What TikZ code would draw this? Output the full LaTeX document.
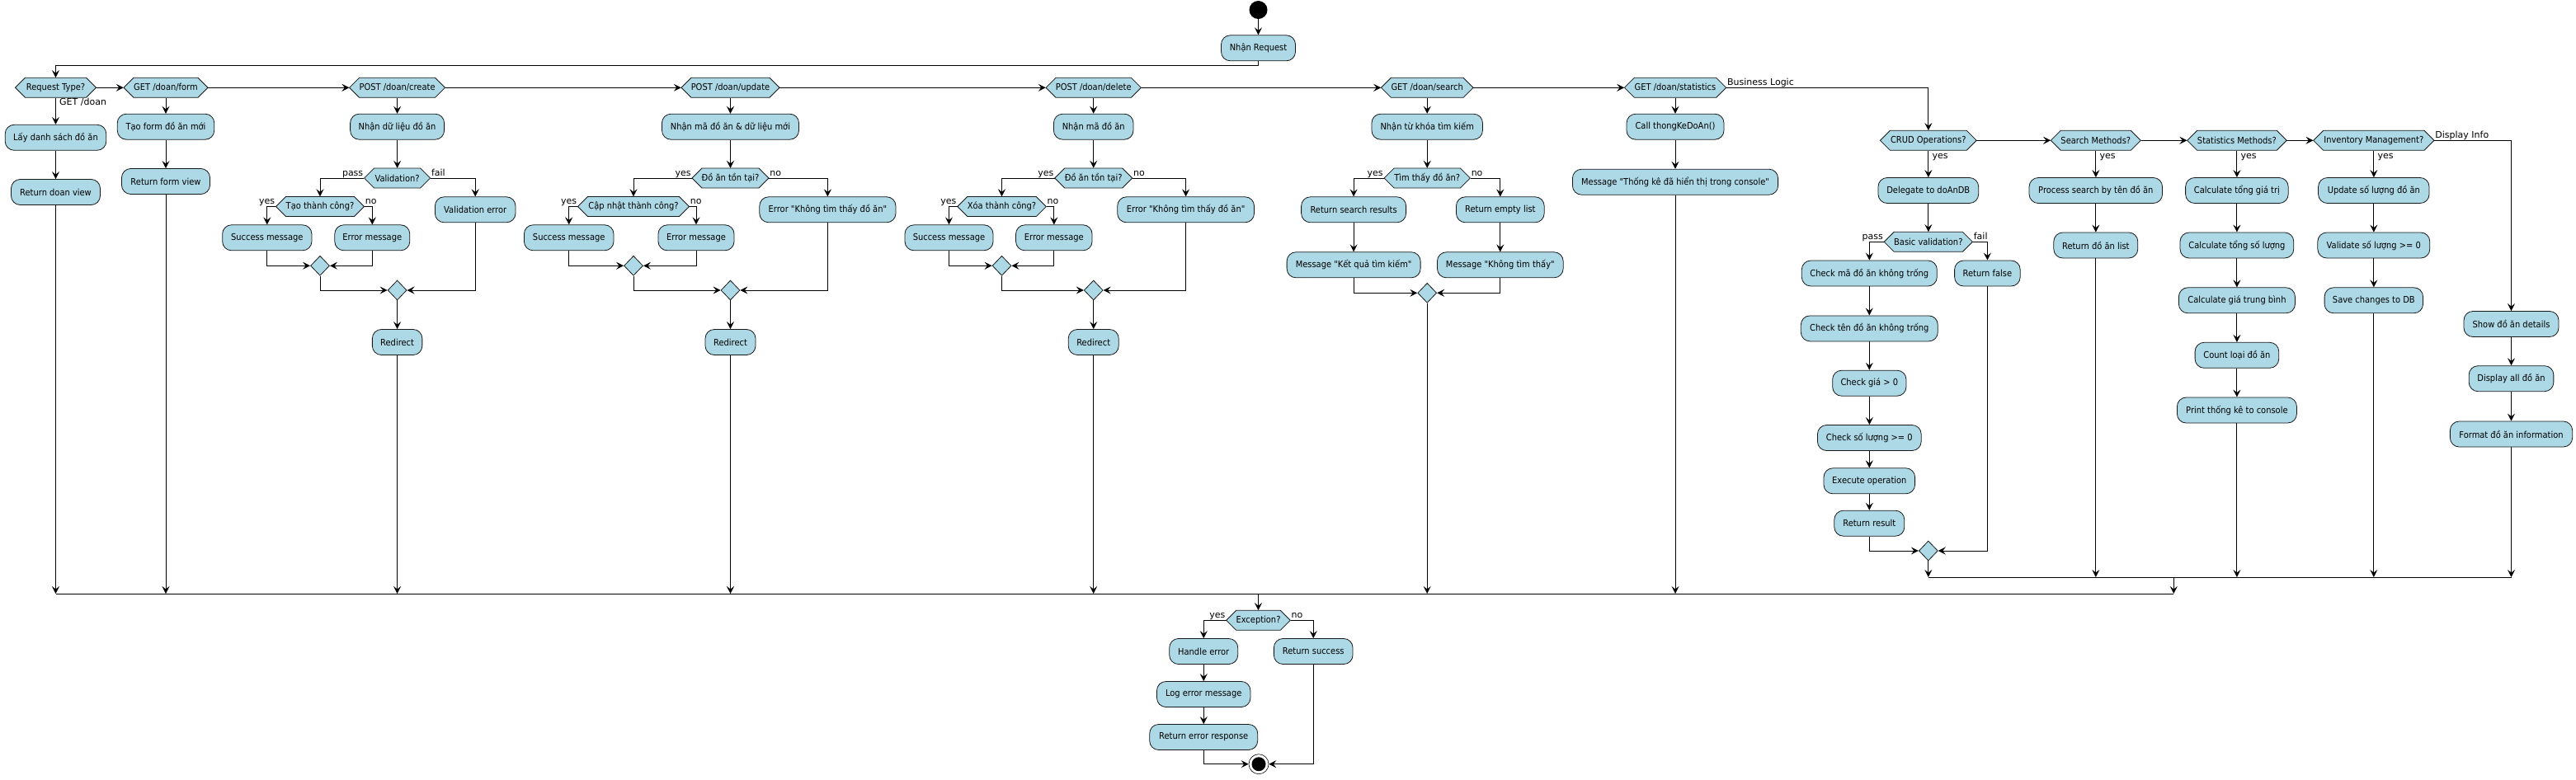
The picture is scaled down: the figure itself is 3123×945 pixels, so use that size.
\documentclass[tikz,border=0pt]{standalone}
\usepackage{fontspec}
\setmainfont{DejaVu Sans}
\newfontfamily\boxfont{DejaVu Sans}[FakeStretch=0.9]
\usetikzlibrary{arrows.meta,shapes.geometric}
\definecolor{lb}{RGB}{173,216,230}
\definecolor{bd}{RGB}{24,24,24}
\tikzset{
  actbox/.style={rectangle, rounded corners=11pt, draw=bd, fill=lb, line width=0.8pt,
    minimum height=31pt, inner sep=0pt, font={\boxfont\fontsize{11}{13}\selectfont}},
  hexlbl/.style={rectangle, inner sep=0pt, minimum height=24pt, font={\boxfont\fontsize{11}{13}\selectfont}},
  hexshape/.style={draw=bd, fill=lb, line width=0.8pt},
  merge/.style={diamond, draw=bd, fill=lb, line width=0.8pt, minimum width=23pt, minimum height=24pt, inner sep=0pt},
  arr/.style={-{Stealth[length=9pt,width=9pt,inset=3.5pt]}, line width=0.9pt},
  ln/.style={line width=0.9pt},
  lbl/.style={font={\fontsize{11}{13}\selectfont}, inner sep=0pt},
  startc/.style={circle, fill=black, minimum size=22pt, inner sep=0pt},
  endc/.style={circle, draw=black, fill=white, line width=0.6pt, minimum size=24pt, inner sep=0pt}
}
\newcommand\mkact[5]{\node[actbox, minimum width=#4pt] (#1) at (#2,#3) {#5};}
\newcommand\mkhex[5]{\path[hexshape] ({#2-#4/2},#3) -- ({#2-#4/2+12},{#3-12}) -- ({#2+#4/2-12},{#3-12}) -- ({#2+#4/2},#3) -- ({#2+#4/2-12},{#3+12}) -- ({#2-#4/2+12},{#3+12}) -- cycle; \node[hexlbl, minimum width=#4pt] (#1) at (#2,#3) {#5};}
\begin{document}
\begin{tikzpicture}[x=1pt,y=-1pt]
\useasboundingbox (0,0) rectangle (3123,945);

% start
\node[startc] (start) at (1525.5,12) {};
\mkact{A}{1525.5}{58.3}{90}{Nhận Request}

% request type row
\mkhex{RT}{67.5}{106.3}{98}{Request Type?}
\mkact{L1}{67.5}{166.8}{122.6}{Lấy danh sách đồ ăn}
\mkact{L2}{67.5}{233}{108}{Return doan view}

\mkhex{GF}{201}{106.3}{102}{GET /doan/form}
\mkact{F1}{201}{153.7}{117.5}{Tạo form đồ ăn mới}
\mkact{F2}{201}{220}{107}{Return form view}

\mkhex{PC}{481.6}{106.3}{116}{POST /doan/create}
\mkact{C1}{481.6}{153.7}{114}{Nhận dữ liệu đồ ăn}
\mkhex{CV}{481.6}{216}{80}{Validation?}
\mkhex{CT}{388}{250.5}{107}{Tạo thành công?}
\mkact{CS}{323.8}{288.3}{108.3}{Success message}
\mkact{CE}{451.3}{288.3}{91}{Error message}
\node[merge] (CM1) at (388,322.3) {};
\mkact{CVE}{576.2}{254.3}{97.6}{Validation error}
\node[merge] (CM2) at (481.6,352) {};
\mkact{CR}{481.6}{415}{60.5}{Redirect}

\mkhex{PU}{885.5}{106.3}{119}{POST /doan/update}
\mkact{U1}{885.5}{153.7}{166}{Nhận mã đồ ăn \& dữ liệu mới}
\mkhex{UV}{885.5}{216}{93}{Đồ ăn tồn tại?}
\mkhex{UT}{768}{250.5}{135}{Cập nhật thành công?}
\mkact{US}{689.7}{288.3}{108.6}{Success message}
\mkact{UE}{844}{288.3}{92}{Error message}
\node[merge] (UM1) at (768,322.3) {};
\mkact{UN}{1003.4}{254.3}{165.2}{Error "Không tìm thấy đồ ăn"}
\node[merge] (UM2) at (885.5,352) {};
\mkact{UR}{885.5}{415}{61}{Redirect}

\mkhex{PD}{1325.7}{106.3}{115.4}{POST /doan/delete}
\mkact{D1}{1325.7}{153.7}{96.6}{Nhận mã đồ ăn}
\mkhex{DV}{1325.7}{216}{94}{Đồ ăn tồn tại?}
\mkhex{DT}{1214.5}{250.5}{107.6}{Xóa thành công?}
\mkact{DS}{1150.5}{288.3}{107}{Success message}
\mkact{DE}{1277.8}{288.3}{92.5}{Error message}
\node[merge] (DM1) at (1214.5,322.3) {};
\mkact{DN}{1437.6}{254.3}{165.8}{Error "Không tìm thấy đồ ăn"}
\node[merge] (DM2) at (1325.7,352) {};
\mkact{DR}{1325.7}{415}{61}{Redirect}

\mkhex{GS}{1730.2}{106.3}{111.6}{GET /doan/search}
\mkact{S1}{1730.2}{153.7}{134.5}{Nhận từ khóa tìm kiếm}
\mkhex{SV}{1730.2}{216}{104.3}{Tìm thấy đồ ăn?}
\mkact{SY}{1641.1}{254.3}{127}{Return search results}
\mkact{SK}{1641.1}{321.3}{162}{Message "Kết quả tìm kiếm"}
\mkact{SN}{1818.8}{254.3}{106.7}{Return empty list}
\mkact{SKK}{1818.8}{321.3}{152.7}{Message "Không tìm thấy"}
\node[merge] (SM) at (1730.2,355.3) {};

\mkhex{GT}{2031}{106.3}{123.3}{GET /doan/statistics}
\mkact{T1}{2031}{153.7}{118}{Call thongKeDoAn()}
\mkact{T2}{2031}{220.7}{249.2}{Message "Thống kê đã hiển thị trong console"}

% business logic
\mkhex{B0}{2337.8}{170.3}{116.7}{CRUD Operations?}
\mkact{B1}{2337.8}{231}{121.7}{Delegate to doAnDB}
\mkhex{BV}{2337.8}{293.3}{107.2}{Basic validation?}
\mkact{BC1}{2266.3}{331.5}{164}{Check mã đồ ăn không trống}
\mkact{BC2}{2266.3}{398.4}{166}{Check tên đồ ăn không trống}
\mkact{BC3}{2266.3}{464.7}{89.3}{Check giá > 0}
\mkact{BC4}{2266.3}{531}{125.7}{Check số lượng >= 0}
\mkact{BC5}{2266.3}{583.3}{110.6}{Execute operation}
\mkact{BC6}{2266.3}{634.7}{85}{Return result}
\mkact{BF}{2409.4}{331.5}{79.6}{Return false}
\node[merge] (BM) at (2337.8,668) {};

\mkhex{Q0}{2540.8}{170.3}{109}{Search Methods?}
\mkact{Q1}{2540.8}{231}{161.5}{Process search by tên đồ ăn}
\mkact{Q2}{2540.8}{297.5}{102}{Return đồ ăn list}

\mkhex{M0}{2711.9}{170.3}{120.6}{Statistics Methods?}
\mkact{M1}{2711.9}{231}{124.6}{Calculate tổng giá trị}
\mkact{M2}{2711.9}{297.5}{137.8}{Calculate tổng số lượng}
\mkact{M3}{2711.9}{364.3}{141}{Calculate giá trung bình}
\mkact{M4}{2711.9}{430.8}{101.6}{Count loại đồ ăn}
\mkact{M5}{2711.9}{497.5}{145}{Print thống kê to console}

\mkhex{I0}{2877.8}{170.3}{146.3}{Inventory Management?}
\mkact{I1}{2877.8}{231}{134.5}{Update số lượng đồ ăn}
\mkact{I2}{2877.8}{297.5}{136}{Validate số lượng >= 0}
\mkact{I3}{2877.8}{364.3}{119.4}{Save changes to DB}

\mkact{X1}{3044.5}{393}{115}{Show đồ ăn details}
\mkact{X2}{3044.5}{459.2}{102.7}{Display all đồ ăn}
\mkact{X3}{3044.5}{526.5}{148.3}{Format đồ ăn information}

% bottom
\mkhex{E0}{1525.5}{752.3}{77.6}{Exception?}
\mkact{E1}{1459.2}{790}{83}{Handle error}
\mkact{E2}{1459.2}{842}{113.4}{Log error message}
\mkact{E3}{1459.2}{894}{131}{Return error response}
\mkact{E4}{1592.2}{790}{95.7}{Return success}
\node[endc] (endn) at (1526,926.7) {};
\fill (endn.center) circle (8.5pt);

% coordinates
\coordinate (topturn) at (67.5,79);
\coordinate (barL) at (67.5,720);
\coordinate (barR) at (2635.3,720);
\coordinate (bbarL) at (2337.8,700);
\coordinate (bbarR) at (3044.5,700);
\coordinate (bbarOut) at (2635.3,700);

% top connectors
\draw[arr] (start) -- (A);
\draw[arr] (A.south) |- (topturn) -- (RT.north);
\draw[arr] (RT.east) -- (GF.west);
\draw[arr] (GF.east) -- (PC.west);
\draw[arr] (PC.east) -- (PU.west);
\draw[arr] (PU.east) -- (PD.west);
\draw[arr] (PD.east) -- (GS.west);
\draw[arr] (GS.east) -- (GT.west);
\draw[arr] (GT.east) -| (B0.north);
\node[lbl, anchor=base west] at ([xshift=1pt,yshift=3pt]GT.east) {Business Logic};

% GET /doan
\draw[arr] (RT.south) -- (L1.north);
\node[lbl, anchor=base west] at ([xshift=4.5pt,yshift=-9.4pt]RT.south) {GET /doan};
\draw[arr] (L1) -- (L2);
\draw[arr] (L2.south) -- (L2.south |- barL);

% form
\draw[arr] (GF) -- (F1);
\draw[arr] (F1) -- (F2);
\draw[arr] (F2.south) -- (F2.south |- barL);

% create
\draw[arr] (PC) -- (C1);
\draw[arr] (C1) -- (CV);
\draw[arr] (CV.west) -| (CT.north);
\node[lbl, anchor=base east] at ([xshift=-1pt,yshift=3pt]CV.west) {pass};
\draw[arr] (CV.east) -| (CVE.north);
\node[lbl, anchor=base west] at ([xshift=1pt,yshift=3pt]CV.east) {fail};
\draw[arr] (CT.west) -| (CS.north);
\node[lbl, anchor=base east] at ([xshift=-1pt,yshift=3pt]CT.west) {yes};
\draw[arr] (CT.east) -| (CE.north);
\node[lbl, anchor=base west] at ([xshift=1pt,yshift=3pt]CT.east) {no};
\draw[arr] (CS.south) |- (CM1.west);
\draw[arr] (CE.south) |- (CM1.east);
\draw[arr] (CM1.south) |- (CM2.west);
\draw[arr] (CVE.south) |- (CM2.east);
\draw[arr] (CM2) -- (CR);
\draw[arr] (CR.south) -- (CR.south |- barL);

% update
\draw[arr] (PU) -- (U1);
\draw[arr] (U1) -- (UV);
\draw[arr] (UV.west) -| (UT.north);
\node[lbl, anchor=base east] at ([xshift=-1pt,yshift=3pt]UV.west) {yes};
\draw[arr] (UV.east) -| (UN.north);
\node[lbl, anchor=base west] at ([xshift=1pt,yshift=3pt]UV.east) {no};
\draw[arr] (UT.west) -| (US.north);
\node[lbl, anchor=base east] at ([xshift=-1pt,yshift=3pt]UT.west) {yes};
\draw[arr] (UT.east) -| (UE.north);
\node[lbl, anchor=base west] at ([xshift=1pt,yshift=3pt]UT.east) {no};
\draw[arr] (US.south) |- (UM1.west);
\draw[arr] (UE.south) |- (UM1.east);
\draw[arr] (UM1.south) |- (UM2.west);
\draw[arr] (UN.south) |- (UM2.east);
\draw[arr] (UM2) -- (UR);
\draw[arr] (UR.south) -- (UR.south |- barL);

% delete
\draw[arr] (PD) -- (D1);
\draw[arr] (D1) -- (DV);
\draw[arr] (DV.west) -| (DT.north);
\node[lbl, anchor=base east] at ([xshift=-1pt,yshift=3pt]DV.west) {yes};
\draw[arr] (DV.east) -| (DN.north);
\node[lbl, anchor=base west] at ([xshift=1pt,yshift=3pt]DV.east) {no};
\draw[arr] (DT.west) -| (DS.north);
\node[lbl, anchor=base east] at ([xshift=-1pt,yshift=3pt]DT.west) {yes};
\draw[arr] (DT.east) -| (DE.north);
\node[lbl, anchor=base west] at ([xshift=1pt,yshift=3pt]DT.east) {no};
\draw[arr] (DS.south) |- (DM1.west);
\draw[arr] (DE.south) |- (DM1.east);
\draw[arr] (DM1.south) |- (DM2.west);
\draw[arr] (DN.south) |- (DM2.east);
\draw[arr] (DM2) -- (DR);
\draw[arr] (DR.south) -- (DR.south |- barL);

% search
\draw[arr] (GS) -- (S1);
\draw[arr] (S1) -- (SV);
\draw[arr] (SV.west) -| (SY.north);
\node[lbl, anchor=base east] at ([xshift=-1pt,yshift=3pt]SV.west) {yes};
\draw[arr] (SV.east) -| (SN.north);
\node[lbl, anchor=base west] at ([xshift=1pt,yshift=3pt]SV.east) {no};
\draw[arr] (SY) -- (SK);
\draw[arr] (SN) -- (SKK);
\draw[arr] (SK.south) |- (SM.west);
\draw[arr] (SKK.south) |- (SM.east);
\draw[arr] (SM.south) -- (SM.south |- barL);

% statistics
\draw[arr] (GT) -- (T1);
\draw[arr] (T1) -- (T2);
\draw[arr] (T2.south) -- (T2.south |- barL);

% business logic
\draw[arr] (B0.east) -- (Q0.west);
\draw[arr] (Q0.east) -- (M0.west);
\draw[arr] (M0.east) -- (I0.west);
\draw[arr] (I0.east) -| (X1.north);
\node[lbl, anchor=base west] at ([xshift=1pt,yshift=3pt]I0.east) {Display Info};

\draw[arr] (B0) -- (B1);
\node[lbl, anchor=base west] at ([xshift=4.5pt,yshift=-10.4pt]B0.south) {yes};
\draw[arr] (B1) -- (BV);
\draw[arr] (BV.west) -| (BC1.north);
\node[lbl, anchor=base east] at ([xshift=-1pt,yshift=3pt]BV.west) {pass};
\draw[arr] (BV.east) -| (BF.north);
\node[lbl, anchor=base west] at ([xshift=1pt,yshift=3pt]BV.east) {fail};
\draw[arr] (BC1) -- (BC2);
\draw[arr] (BC2) -- (BC3);
\draw[arr] (BC3) -- (BC4);
\draw[arr] (BC4) -- (BC5);
\draw[arr] (BC5) -- (BC6);
\draw[arr] (BC6.south) |- (BM.west);
\draw[arr] (BF.south) |- (BM.east);
\draw[arr] (BM.south) -- (bbarL);

\draw[arr] (Q0) -- (Q1);
\node[lbl, anchor=base west] at ([xshift=4.5pt,yshift=-10.4pt]Q0.south) {yes};
\draw[arr] (Q1) -- (Q2);
\draw[arr] (Q2.south) -- (Q2.south |- bbarL);

\draw[arr] (M0) -- (M1);
\node[lbl, anchor=base west] at ([xshift=4.5pt,yshift=-10.4pt]M0.south) {yes};
\draw[arr] (M1) -- (M2);
\draw[arr] (M2) -- (M3);
\draw[arr] (M3) -- (M4);
\draw[arr] (M4) -- (M5);
\draw[arr] (M5.south) -- (M5.south |- bbarL);

\draw[arr] (I0) -- (I1);
\node[lbl, anchor=base west] at ([xshift=4.5pt,yshift=-10.4pt]I0.south) {yes};
\draw[arr] (I1) -- (I2);
\draw[arr] (I2) -- (I3);
\draw[arr] (I3.south) -- (I3.south |- bbarL);

\draw[arr] (X1) -- (X2);
\draw[arr] (X2) -- (X3);
\draw[arr] (X3.south) -- (bbarR);

% bars
\draw[ln] (bbarL) -- (bbarR);
\draw[arr] (bbarOut) -- (barR);
\draw[ln] (barL) -- (barR);

% exception
\draw[arr] (E0.north |- barL) -- (E0.north);
\draw[arr] (E0.west) -| (E1.north);
\node[lbl, anchor=base east] at ([xshift=-1pt,yshift=3pt]E0.west) {yes};
\draw[arr] (E0.east) -| (E4.north);
\node[lbl, anchor=base west] at ([xshift=1pt,yshift=3pt]E0.east) {no};
\draw[arr] (E1) -- (E2);
\draw[arr] (E2) -- (E3);
\draw[arr] (E3.south) |- (endn.west);
\draw[arr] (E4.south) |- (endn.east);
\end{tikzpicture}
\end{document}
